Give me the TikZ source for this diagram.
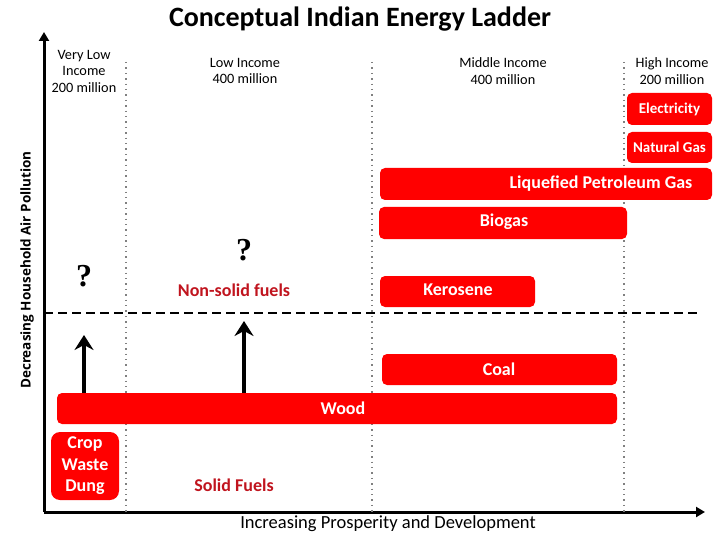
\documentclass[tikz,border=0pt]{standalone}
\usepackage{fontspec}
\setmainfont{Carlito}
\newfontfamily\labfont{Open Sans}
\newfontfamily\qfont{Liberation Serif}
\usetikzlibrary{arrows.meta}
\definecolor{boxred}{HTML}{FF0000}
\definecolor{darkred}{HTML}{C0141E}
\begin{document}
\begin{tikzpicture}[x=1pt,y=-1pt,
  fuel/.style={fill=boxred,draw=none,rounded corners=5pt,text=white,font=\fontsize{15}{17}\selectfont\bfseries},
  ftext/.style={text=white,font=\fontsize{18}{20}\selectfont\bfseries},
  head/.style={font=\fontsize{14.3}{16.5}\selectfont,align=center},
  cat/.style={text=darkred,font=\fontsize{18}{20}\selectfont\bfseries},
  qm/.style={font=\qfont\fontsize{32}{32}\selectfont\bfseries},
  axis/.style={line width=3pt,-{Triangle[length=9pt,width=10pt]}},
  push/.style={line width=4.5pt,-{Stealth[length=15pt,width=19pt,inset=5pt]}},
  sep/.style={gray,line width=1.4pt,dash pattern=on 1.4pt off 4pt},
]
\useasboundingbox (0,0) rectangle (720,540);
\node[font=\fontsize{28}{30}\selectfont\bfseries] (title) at (360,19) {Conceptual Indian Energy Ladder};
% axes
\coordinate (o) at (44,512);
\coordinate (ytop) at (44,32);
\coordinate (xend) at (705,512);
\draw[axis] (o) -- (ytop);
\draw[axis] (o) -- (xend);
\node[rotate=90,font=\labfont\fontsize{13.5}{15}\selectfont\bfseries] (ylab) at (27,270) {Decreasing Household Air Pollution};
\node[font=\fontsize{18.5}{20}\selectfont] (xlab) at (388,524) {Increasing Prosperity and Development};
% separators
\foreach \x/\n in {126/a,372/b,624/c}{
  \coordinate (s\n1) at (\x,62);
  \coordinate (s\n2) at (\x,512);
  \draw[sep] (s\n1) -- (s\n2);
}
% dashed line
\coordinate (d1) at (44,313);
\coordinate (d2) at (698,313);
\draw[line width=2pt,dash pattern=on 9pt off 5pt] (d1) -- (d2);
% headings
\node[head] (h1) at (84,71) {Very Low\\Income\\200 million};
\node[head] (h2) at (245,71) {Low Income\\400 million};
\node[head] (h3) at (503,71) {Middle Income\\400 million};
\node[head] (h4) at (672,71) {High Income\\200 million};
% fuel boxes
\node[fuel,minimum width=85pt,minimum height=32pt,font=\fontsize{15}{17}\selectfont\bfseries] (elec) at (669.5,109) {Electricity};
\node[fuel,minimum width=85pt,minimum height=31pt,font=\fontsize{15}{17}\selectfont\bfseries] (ng) at (669.5,147.5) {Natural Gas};
\fill[boxred,rounded corners=5pt] (380,168) rectangle (712,200);
\node[ftext] (lpg) at (601,184) {Liquefied Petroleum Gas};
\fill[boxred,rounded corners=5pt] (379,207) rectangle (627,239);
\node[ftext] (bio) at (504,222) {Biogas};
\fill[boxred,rounded corners=5pt] (380,276) rectangle (535,307);
\node[ftext] (ker) at (458,290) {Kerosene};
\fill[boxred,rounded corners=5pt] (382,354) rectangle (617,385);
\node[ftext] (coal) at (499,369) {Coal};
\fill[boxred,rounded corners=5pt] (57,393) rectangle (617,424);
\node[ftext] (wood) at (343,408) {Wood};
\fill[boxred,rounded corners=9pt] (51,432) rectangle (119,500);
\node[ftext,align=center,font=\fontsize{18}{21.5}\selectfont\bfseries] (crop) at (85,466) {Crop\\Waste\\Dung};
% category labels
\node[cat] (ns) at (234,290) {Non-solid fuels};
\node[cat] (sf) at (234,485) {Solid Fuels};
\node[qm] (q1) at (84,276) {?};
\node[qm] (q2) at (244,250) {?};
% arrows
\coordinate (a1s) at (84,393);
\coordinate (a1e) at (84,335);
\coordinate (a2s) at (244,393);
\coordinate (a2e) at (244,321);
\draw[push] (a1s) -- (a1e);
\draw[push] (a2s) -- (a2e);
\end{tikzpicture}
\end{document}
